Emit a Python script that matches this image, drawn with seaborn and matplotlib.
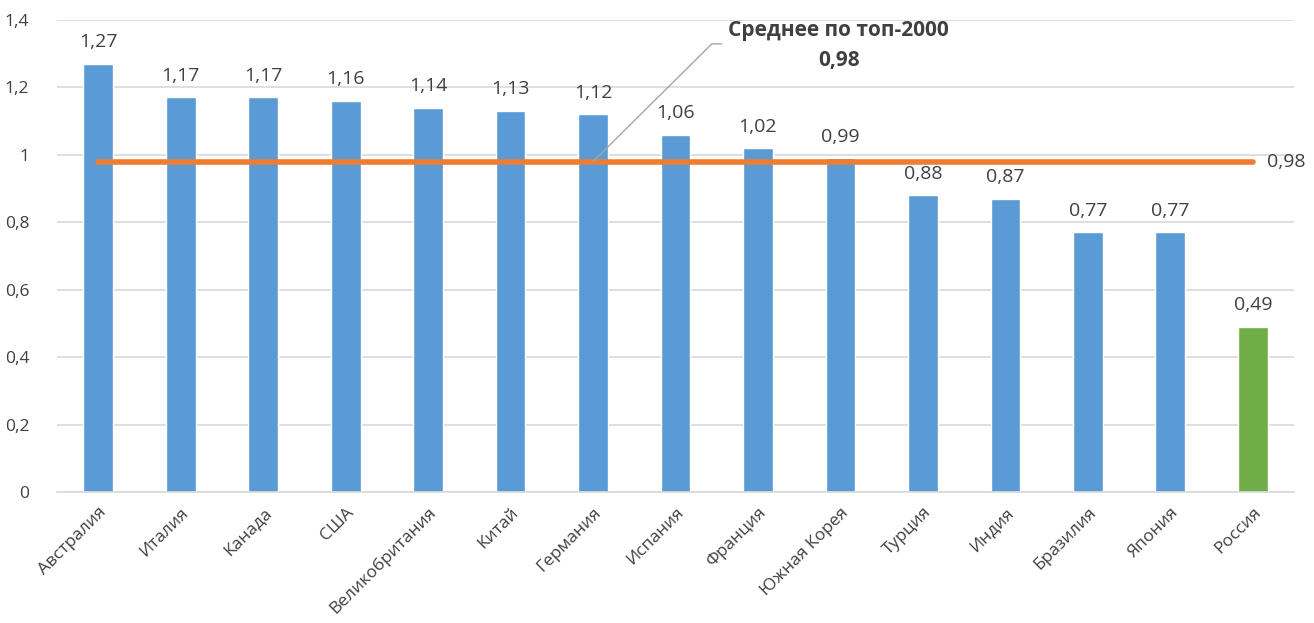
import matplotlib
matplotlib.use('Agg')
import matplotlib.pyplot as plt
import pandas as pd
import seaborn as sns

# данные с картинки
страны = ['Австралия', 'Италия', 'Канада', 'США', 'Великобритания', 'Китай',
          'Германия', 'Испания', 'Франция', 'Южная Корея', 'Турция', 'Индия',
          'Бразилия', 'Япония', 'Россия']
значения = [1.27, 1.17, 1.17, 1.16, 1.14, 1.13, 1.12, 1.06, 1.02, 0.99,
            0.88, 0.87, 0.77, 0.77, 0.49]
цвета = ['#5B9BD5'] * 14 + ['#70AD47']
среднее = 0.98
подпись_среднего = 'Среднее по топ-2000'
деления_y = [0, 0.2, 0.4, 0.6, 0.8, 1, 1.2, 1.4]

ТЕКСТ = '#404040'


def fmt(v):
    s = f'{v:g}'
    return s.replace('.', ',')


def draw_chart():
    sns.set_style('white')
    plt.rcParams['font.family'] = ['Open Sans', 'DejaVu Sans']
    df = pd.DataFrame({'страна': страны, 'значение': значения})

    fig = plt.figure(figsize=(13.14, 6.23), dpi=100)
    ax = fig.add_axes([0.0434, 0.2103, 0.9414, 0.7577])

    sns.barplot(data=df, x='страна', y='значение', hue='страна',
                palette=цвета, legend=False, width=0.36, saturation=1,
                ax=ax, zorder=2)

    ax.set_ylim(0, 1.4)
    ax.set_xlim(-0.5, len(страны) - 0.5)
    ax.set_yticks(деления_y)
    ax.set_yticklabels([fmt(v) for v in деления_y], fontsize=12.5, color=ТЕКСТ)
    ax.tick_params(axis='y', length=0, pad=20)
    ax.tick_params(axis='x', length=0, pad=9)
    ax.set_xticks(range(len(страны)))
    ax.set_xticklabels(страны, rotation=45, ha='right', rotation_mode='anchor',
                       fontsize=12.5, color=ТЕКСТ)
    ax.set_xlabel('')
    ax.set_ylabel('')
    ax.grid(axis='y', color='#D9D9D9', linewidth=1.2, zorder=0)
    for s in ['top', 'right', 'left']:
        ax.spines[s].set_visible(False)
    ax.spines['bottom'].set_color('#D9D9D9')
    ax.spines['bottom'].set_linewidth(1.2)

    for cont in ax.containers:
        ax.bar_label(cont, labels=[fmt(v) for v in cont.datavalues],
                     padding=9, fontsize=14, color=ТЕКСТ)

    # линия среднего
    ax.hlines(среднее, 0, len(страны) - 1, color='#ED7D31', linewidth=4,
              capstyle='round', zorder=3)
    ax.text(len(страны) - 1 + 0.17, среднее, fmt(среднее), fontsize=14,
            color=ТЕКСТ, va='center', ha='left', clip_on=False)

    # выноска
    ax.plot([6, 7.44, 7.56], [0.98, 1.329, 1.329], color='#A6A6A6',
            linewidth=1, zorder=4)
    ax.text(8.98, 1.37, подпись_среднего, fontsize=15, fontweight='bold',
            color=ТЕКСТ, ha='center', va='center')
    ax.text(8.98, 1.28, fmt(среднее), fontsize=15, fontweight='bold',
            color=ТЕКСТ, ha='center', va='center')
    return fig


if __name__ == '__main__':
    fig = draw_chart()
    fig.savefig('out.png', dpi=100)
